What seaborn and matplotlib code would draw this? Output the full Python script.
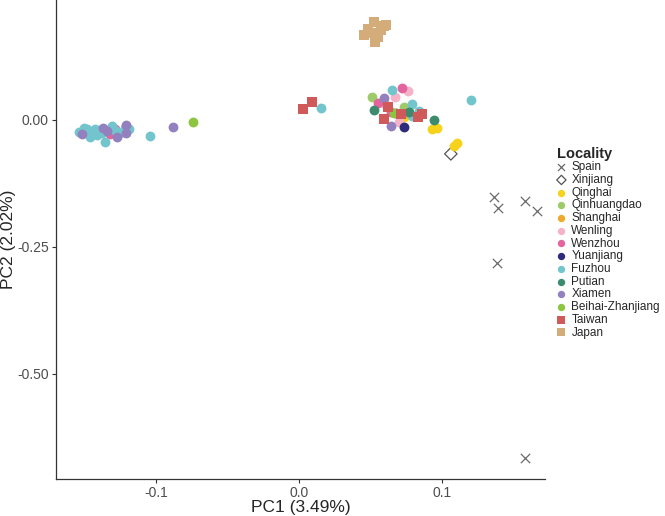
import matplotlib
matplotlib.use("Agg")
import matplotlib.pyplot as plt
import seaborn as sns
import pandas as pd

# PCA coordinates, per locality
spain_pc1 = [0.136, 0.139, 0.158, 0.166, 0.138, 0.158]
spain_pc2 = [-0.152, -0.173, -0.159, -0.179, -0.282, -0.666]

xinjiang_pc1 = [0.106]
xinjiang_pc2 = [-0.067]

qinghai_pc1 = [0.093, 0.096, 0.108, 0.110, 0.073]
qinghai_pc2 = [-0.018, -0.016, -0.051, -0.045, 0.006]

qinhuangdao_pc1 = [0.051, 0.073]
qinhuangdao_pc2 = [0.045, 0.026]

shanghai_pc1 = [0.075]
shanghai_pc2 = [0.014]

wenling_pc1 = [0.076, 0.067, 0.061, 0.070]
wenling_pc2 = [0.057, 0.045, 0.030, -0.004]

wenzhou_pc1 = [0.072, 0.055, 0.064, -0.129, -0.132]
wenzhou_pc2 = [0.063, 0.033, 0.016, -0.018, -0.028]

yuanjiang_pc1 = [0.073]
yuanjiang_pc2 = [-0.014]

fuzhou_pc1 = [0.015, 0.065, 0.120, 0.079, 0.084, 0.079,
              -0.154, -0.148, -0.146, -0.144, -0.146, -0.141, -0.139, -0.136,
              -0.131, -0.125, -0.119, -0.104, -0.150, -0.143, -0.138, -0.128, -0.122]
fuzhou_pc2 = [0.024, 0.059, 0.039, 0.031, 0.018, 0.008,
              -0.024, -0.018, -0.026, -0.024, -0.033, -0.030, -0.020, -0.043,
              -0.012, -0.026, -0.018, -0.032, -0.016, -0.018, -0.026, -0.022, -0.016]

putian_pc1 = [0.052, 0.068, 0.077, 0.094]
putian_pc2 = [0.020, 0.014, 0.016, 0.000]

xiamen_pc1 = [0.059, 0.064, -0.152, -0.137, -0.134, -0.127, -0.121, -0.121, -0.088]
xiamen_pc2 = [0.043, -0.012, -0.028, -0.016, -0.022, -0.033, -0.010, -0.026, -0.014]

beihai_pc1 = [-0.074, 0.066]
beihai_pc2 = [-0.004, 0.014]

taiwan_pc1 = [0.003, 0.009, 0.059, 0.071, 0.083, 0.086, 0.062]
taiwan_pc2 = [0.022, 0.035, 0.002, 0.012, 0.006, 0.012, 0.026]

japan_pc1 = [0.052, 0.048, 0.045, 0.050, 0.054, 0.055, 0.053, 0.059, 0.061, 0.057]
japan_pc2 = [0.193, 0.179, 0.167, 0.171, 0.171, 0.163, 0.154, 0.185, 0.187, 0.177]

localities = ["Spain", "Xinjiang", "Qinghai", "Qinhuangdao", "Shanghai", "Wenling",
              "Wenzhou", "Yuanjiang", "Fuzhou", "Putian", "Xiamen",
              "Beihai-Zhanjiang", "Taiwan", "Japan"]
pc1_values = [spain_pc1, xinjiang_pc1, qinghai_pc1, qinhuangdao_pc1, shanghai_pc1,
              wenling_pc1, wenzhou_pc1, yuanjiang_pc1, fuzhou_pc1, putian_pc1,
              xiamen_pc1, beihai_pc1, taiwan_pc1, japan_pc1]
pc2_values = [spain_pc2, xinjiang_pc2, qinghai_pc2, qinhuangdao_pc2, shanghai_pc2,
              wenling_pc2, wenzhou_pc2, yuanjiang_pc2, fuzhou_pc2, putian_pc2,
              xiamen_pc2, beihai_pc2, taiwan_pc2, japan_pc2]

colors = ["#6b6b6b", "#555555", "#F7D21A", "#9ECB6A", "#EFAA2E", "#F4B3C6",
          "#E4649E", "#2D2B7C", "#73C5CD", "#3C8B6D", "#9381BF",
          "#8CC540", "#D0595A", "#D4AC7A"]
markers = ["x", "D", "o", "o", "o", "o", "o", "o", "o", "o", "o", "o", "s", "s"]

df = pd.concat([pd.DataFrame({"PC1": x, "PC2": y, "Locality": name})
                for name, x, y in zip(localities, pc1_values, pc2_values)],
               ignore_index=True)

sns.set_style("white")
plt.rcParams["font.family"] = ["Liberation Sans", "DejaVu Sans"]

fig = plt.figure(figsize=(6.65, 5.16), dpi=100)
ax = fig.add_axes([0.084, 0.072, 0.736, 0.928])

for name, col, mk in zip(localities, colors, markers):
    sub = df[df["Locality"] == name]
    if mk == "x":
        sns.scatterplot(data=sub, x="PC1", y="PC2", ax=ax, marker="x",
                        color=col, s=45, linewidth=0.9, label=name)
    elif mk == "D":
        sns.scatterplot(data=sub, x="PC1", y="PC2", ax=ax, marker="D",
                        facecolor="none", edgecolor=col, s=40, linewidth=0.9,
                        label=name)
    else:
        sns.scatterplot(data=sub, x="PC1", y="PC2", ax=ax, marker=mk,
                        color=col, s=50, linewidth=0, label=name)

ax.set_xlim(-0.170, 0.172)
ax.set_ylim(-0.707, 0.236)
ax.set_xticks([-0.1, 0.0, 0.1])
ax.set_xticklabels(["-0.1", "0.0", "0.1"])
ax.set_yticks([0.0, -0.25, -0.5])
ax.set_yticklabels(["0.00", "-0.25", "-0.50"])
ax.tick_params(axis="both", which="both", direction="out", length=3, width=0.8,
               color="#333333", labelcolor="#4D4D4D", labelsize=10, pad=2,
               left=True, bottom=True)

sns.despine(ax=ax, top=True, right=True)
for side in ["left", "bottom"]:
    ax.spines[side].set_color("#333333")
    ax.spines[side].set_linewidth(0.9)

ax.set_xlabel("PC1 (3.49%)", fontsize=12.5, labelpad=0)
ax.set_ylabel("PC2 (2.02%)", fontsize=12.5, labelpad=1)

handles, labels = ax.get_legend_handles_labels()
ax.legend(handles, labels, title="Locality", loc="upper left",
          bbox_to_anchor=(0.830, 0.725), bbox_transform=fig.transFigure,
          frameon=False, fontsize=8.5, title_fontproperties={"weight": "bold", "size": 10.5},
          labelspacing=0.06, handletextpad=0.45, handlelength=0.8,
          borderaxespad=0, markerscale=0.75, alignment="left")

fig.savefig("out.png", dpi=100)
